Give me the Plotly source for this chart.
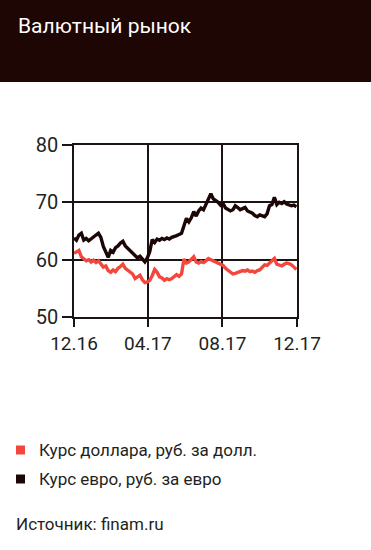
import pandas as pd
import plotly.graph_objects as go

# Data: sampled every 4 days from 1 Dec 2016
start = "2016-12-01"
usd = [61.1, 61.3, 61.6, 60.5, 60.2, 59.8, 60.0, 59.6, 59.9, 59.5, 59.8, 59.3,
       58.7, 58.9, 58.1, 57.8, 58.2, 57.9, 58.5, 58.8, 59.2, 58.5, 58.2, 57.9,
       57.5, 56.7, 57.0, 57.3, 56.5, 56.0, 56.1, 56.4, 57.2, 58.3, 57.8, 57.0,
       56.8, 56.4, 56.7, 56.5, 56.7, 57.1, 57.4, 57.1, 57.5, 60.1, 59.4, 59.6,
       60.0, 60.5, 59.6, 59.4, 59.7, 59.5, 59.8, 60.2, 60.0, 59.8, 59.6, 59.4,
       59.2, 59.0, 58.5, 58.1, 57.7, 57.5, 57.6, 57.8, 57.9, 58.1, 58.0, 58.2,
       57.9, 58.0, 57.8, 58.1, 58.2, 58.6, 59.1, 59.0, 59.4, 59.7, 60.2, 59.2,
       59.1, 58.9, 59.2, 59.4, 59.3, 59.1, 58.7, 58.3]
eur = [63.8, 63.4, 64.3, 64.6, 63.4, 63.7, 63.3, 63.7, 63.9, 64.3, 64.6, 63.9,
       62.3, 61.5, 60.4, 61.6, 61.3, 62.1, 62.4, 62.9, 63.2, 62.4, 62.0, 61.6,
       61.0, 60.8, 60.3, 60.6, 60.0, 59.6, 60.3, 61.4, 63.5, 63.0, 63.6, 63.4,
       63.7, 63.5, 63.8, 63.6, 63.9, 64.0, 64.2, 64.4, 64.6, 65.9, 67.2, 66.6,
       67.3, 68.4, 67.6, 68.5, 69.0, 68.7, 69.6, 70.4, 71.5, 70.6, 70.3, 70.0,
       69.5, 69.8, 69.0, 68.7, 68.5, 68.7, 69.4, 69.1, 68.7, 68.9, 69.1, 68.5,
       68.3, 68.1, 67.7, 67.5, 67.8, 67.6, 67.5, 68.0, 69.4, 69.6, 70.9, 69.6,
       70.0, 69.8, 70.1, 69.7, 69.6, 69.4, 69.5, 69.2]
dates = pd.date_range(start, periods=len(usd), freq="4D")

tick_dates = ["2016-12-01", "2017-04-01", "2017-08-01", "2017-12-01"]
tick_labels = ["12.16", "04.17", "08.17", "12.17"]
y_ticks = [50, 60, 70, 80]

series_names = ["Курс доллара, руб. за долл.", "Курс евро, руб. за евро"]
series_colors = ["#f2473d", "#1c0606"]
title_text = "Валютный рынок"
source_text = "Источник: finam.ru"

W, H = 371, 550
L, R, T, B = 74, 74, 145, 233
pw, ph = W - L - R, H - T - B

def px(x):
    return (x - L) / pw

def py(y):
    return (H - B - y) / ph

FONT = "Roboto, sans-serif"

fig = go.Figure()
for vals, name, col in zip([usd, eur], series_names, series_colors):
    fig.add_trace(go.Scatter(x=dates, y=vals, mode="lines", name=name,
                             line=dict(color=col, width=3.4), showlegend=False))

shapes = [
    dict(type="rect", xref="paper", yref="paper", x0=px(0), x1=px(W), y0=py(82), y1=py(0),
         fillcolor="#1e0605", line=dict(width=0), layer="below"),
]
annotations = [
    dict(text=title_text, xref="paper", yref="paper", x=px(16), y=py(26), xanchor="left",
         yanchor="middle", showarrow=False, font=dict(family=FONT, size=21, color="#ffffff")),
]
leg_y = [450, 479]
for name, col, yy in zip(series_names, series_colors, leg_y):
    shapes.append(dict(type="rect", xref="paper", yref="paper", x0=px(16), x1=px(25),
                       y0=py(yy + 4.5), y1=py(yy - 4.5), fillcolor=col, line=dict(width=0)))
    annotations.append(dict(text=name, xref="paper", yref="paper", x=px(37), y=py(yy),
                            xanchor="left", yanchor="middle", showarrow=False,
                            font=dict(family=FONT, size=17, color="#231f20")))
annotations.append(dict(text=source_text, xref="paper", yref="paper", x=px(14), y=py(524),
                        xanchor="left", yanchor="middle", showarrow=False,
                        font=dict(family=FONT, size=17, color="#231f20")))

fig.update_layout(
    width=W, height=H, margin=dict(l=L, r=R, t=T, b=B, pad=0),
    paper_bgcolor="#ffffff", plot_bgcolor="#ffffff",
    shapes=shapes, annotations=annotations, showlegend=False,
)
fig.update_xaxes(range=[tick_dates[0], tick_dates[-1]], tickvals=tick_dates, ticktext=tick_labels,
                 showgrid=True, gridcolor="#1c1414", gridwidth=1.5,
                 showline=True, mirror=True, linecolor="#1c1414", linewidth=1.5,
                 ticks="outside", ticklen=8, tickwidth=1.5, tickcolor="#1c1414",
                 ticklabelstandoff=0,
                 tickfont=dict(family=FONT, size=19, color="#231f20"), zeroline=False)
fig.update_yaxes(range=[50, 80], tickvals=y_ticks,
                 showgrid=True, gridcolor="#1c1414", gridwidth=1.5,
                 showline=True, mirror=True, linecolor="#1c1414", linewidth=1.5,
                 ticks="outside", ticklen=10, tickwidth=1.5, tickcolor="#1c1414",
                 tickfont=dict(family=FONT, size=20, color="#231f20"), zeroline=False)

fig.write_html("out.html")
